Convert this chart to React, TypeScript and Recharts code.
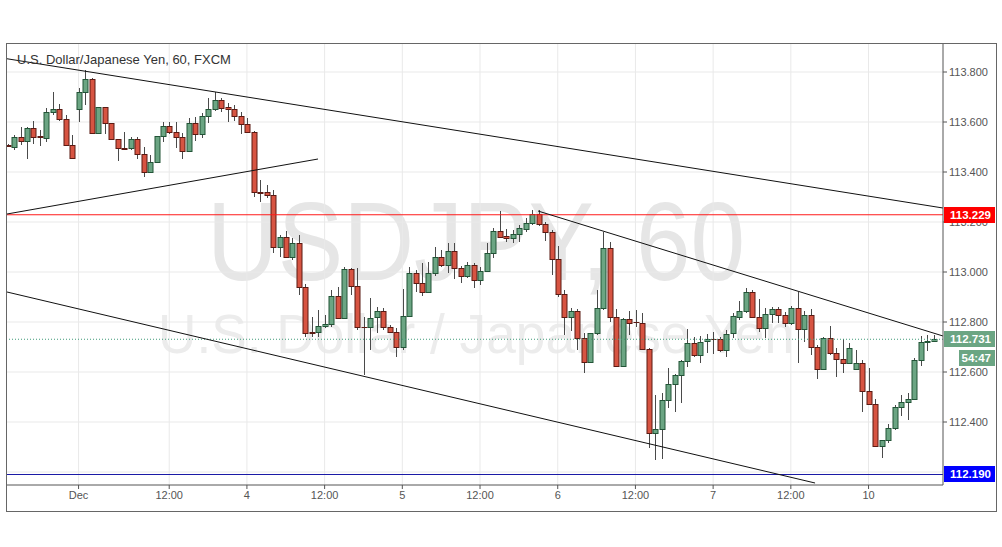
import React from "react";
import { ComposedChart, Bar, XAxis, YAxis, CartesianGrid, ReferenceLine } from "recharts";

// hourly candles, USD/JPY 60, FXCM
const opens = [
  113.508, 113.5, 113.54, 113.524, 113.576, 113.544, 113.536, 113.64, 113.652, 113.612,
  113.508, 113.652, 113.72, 113.772, 113.556, 113.66, 113.596, 113.532, 113.496, 113.496,
  113.532, 113.472, 113.4, 113.44, 113.544, 113.584, 113.56, 113.54, 113.484, 113.596,
  113.552, 113.624, 113.652, 113.688, 113.66, 113.652, 113.624, 113.592, 113.56, 113.32,
  113.32, 113.308, 113.1, 113.14, 113.06, 113.116, 112.94, 112.76, 112.76, 112.784,
  112.792, 112.904, 112.816, 113.012, 112.944, 112.78, 112.78, 112.82, 112.844, 112.78,
  112.76, 112.7, 112.824, 112.996, 112.956, 112.92, 112.996, 113.06, 113.028, 113.084,
  113.016, 112.984, 113.028, 112.968, 113.004, 113.076, 113.164, 113.144, 113.136, 113.152,
  113.172, 113.196, 113.232, 113.192, 113.16, 113.052, 112.912, 112.82, 112.844, 112.736,
  112.64, 112.756, 112.856, 113.096, 112.82, 112.624, 112.812, 112.8, 112.796, 112.692,
  112.356, 112.372, 112.488, 112.552, 112.588, 112.644, 112.716, 112.668, 112.724, 112.732,
  112.732, 112.688, 112.756, 112.82, 112.844, 112.92, 112.82, 112.776, 112.832, 112.852,
  112.828, 112.796, 112.856, 112.772, 112.828, 112.7, 112.612, 112.736, 112.676, 112.652,
  112.636, 112.612, 112.636, 112.524, 112.472, 112.304, 112.328, 112.376, 112.46, 112.48,
  112.492, 112.648, 112.72, 112.724,
];
const highs = [
  113.512, 113.548, 113.58, 113.58, 113.604, 113.568, 113.656, 113.72, 113.672, 113.628,
  113.548, 113.736, 113.808, 113.776, 113.66, 113.66, 113.596, 113.532, 113.56, 113.54,
  113.54, 113.5, 113.468, 113.544, 113.6, 113.6, 113.6, 113.556, 113.616, 113.62,
  113.636, 113.696, 113.72, 113.696, 113.676, 113.668, 113.64, 113.616, 113.564, 113.368,
  113.348, 113.328, 113.148, 113.164, 113.136, 113.148, 112.952, 112.82, 112.848, 112.828,
  112.928, 112.94, 113.02, 113.016, 113.016, 112.82, 112.896, 112.86, 112.856, 112.788,
  112.776, 112.932, 113.02, 113.008, 113.036, 113.04, 113.1, 113.088, 113.116, 113.116,
  113.024, 113.04, 113.036, 113.02, 113.116, 113.176, 113.244, 113.172, 113.168, 113.188,
  113.216, 113.248, 113.248, 113.2, 113.168, 113.104, 112.928, 112.856, 112.852, 112.756,
  112.756, 112.928, 113.16, 113.12, 112.852, 112.816, 112.844, 112.848, 112.836, 112.696,
  112.508, 112.516, 112.616, 112.592, 112.648, 112.772, 112.74, 112.744, 112.752, 112.76,
  112.74, 112.768, 112.836, 112.884, 112.936, 112.928, 112.892, 112.856, 112.86, 112.86,
  112.84, 112.864, 112.92, 112.844, 112.852, 112.708, 112.74, 112.784, 112.696, 112.732,
  112.716, 112.688, 112.648, 112.616, 112.492, 112.328, 112.392, 112.468, 112.508, 112.516,
  112.656, 112.744, 112.748, 112.748,
];
const lows = [
  113.5, 113.488, 113.508, 113.452, 113.512, 113.504, 113.52, 113.628, 113.604, 113.504,
  113.456, 113.6, 113.668, 113.556, 113.556, 113.552, 113.532, 113.444, 113.488, 113.488,
  113.452, 113.38, 113.4, 113.436, 113.52, 113.552, 113.496, 113.452, 113.48, 113.524,
  113.536, 113.596, 113.644, 113.64, 113.6, 113.604, 113.552, 113.556, 113.3, 113.28,
  113.296, 113.076, 113.06, 113.06, 113.048, 112.908, 112.74, 112.74, 112.74, 112.776,
  112.78, 112.816, 112.812, 112.908, 112.768, 112.588, 112.688, 112.756, 112.768, 112.756,
  112.66, 112.688, 112.82, 112.92, 112.904, 112.92, 112.984, 113.02, 112.996, 112.972,
  112.956, 112.976, 112.936, 112.948, 113.0, 113.056, 113.136, 113.12, 113.116, 113.12,
  113.16, 113.188, 113.184, 113.124, 112.988, 112.9, 112.748, 112.764, 112.688, 112.596,
  112.64, 112.748, 112.848, 112.8, 112.62, 112.624, 112.748, 112.78, 112.688, 112.296,
  112.248, 112.252, 112.456, 112.44, 112.476, 112.62, 112.66, 112.636, 112.676, 112.672,
  112.68, 112.66, 112.736, 112.808, 112.836, 112.816, 112.76, 112.736, 112.796, 112.796,
  112.78, 112.788, 112.636, 112.72, 112.668, 112.572, 112.608, 112.668, 112.58, 112.596,
  112.632, 112.608, 112.44, 112.472, 112.304, 112.256, 112.316, 112.368, 112.424, 112.408,
  112.488, 112.624, 112.684, 112.72,
];
const closes = [
  113.504, 113.54, 113.524, 113.576, 113.54, 113.54, 113.64, 113.652, 113.612, 113.508,
  113.456, 113.72, 113.772, 113.556, 113.66, 113.596, 113.532, 113.496, 113.494, 113.532,
  113.472, 113.4, 113.44, 113.544, 113.584, 113.56, 113.54, 113.484, 113.596, 113.552,
  113.624, 113.652, 113.688, 113.656, 113.652, 113.624, 113.592, 113.56, 113.32, 113.318,
  113.308, 113.1, 113.14, 113.06, 113.116, 112.94, 112.756, 112.758, 112.784, 112.792,
  112.904, 112.816, 113.012, 112.944, 112.78, 112.778, 112.816, 112.844, 112.78, 112.76,
  112.7, 112.824, 112.996, 112.956, 112.92, 112.996, 113.06, 113.028, 113.084, 113.016,
  112.984, 113.028, 112.968, 113.004, 113.076, 113.164, 113.14, 113.136, 113.152, 113.176,
  113.196, 113.232, 113.192, 113.16, 113.052, 112.912, 112.82, 112.844, 112.736, 112.64,
  112.756, 112.856, 113.096, 112.82, 112.624, 112.812, 112.796, 112.798, 112.692, 112.356,
  112.372, 112.488, 112.552, 112.588, 112.644, 112.716, 112.668, 112.72, 112.732, 112.73,
  112.688, 112.752, 112.824, 112.844, 112.92, 112.82, 112.776, 112.832, 112.852, 112.828,
  112.796, 112.856, 112.772, 112.828, 112.7, 112.612, 112.736, 112.676, 112.652, 112.636,
  112.696, 112.636, 112.524, 112.472, 112.304, 112.328, 112.376, 112.46, 112.48, 112.492,
  112.648, 112.72, 112.724, 112.731,
];

const timeTicks = [11, 25, 37, 49, 61, 73, 85, 97, 109, 121, 133];
const timeLabels = ["Dec", "12:00", "4", "12:00", "5", "12:00", "6", "12:00", "7", "12:00", "10"];
const gridPrices = [112.2, 112.4, 112.6, 112.8, 113.0, 113.2, 113.4, 113.6, 113.8];
// 112.200 sits under the support tag, so it gets no label
const priceTicks = [112.4, 112.6, 112.8, 113.0, 113.2, 113.4, 113.6, 113.8];

const resistance = 113.229;
const support = 112.19;
const lastPrice = 112.731;
const countdown = "54:47";

// trend lines: [startIndex, startPrice, endIndex, endPrice]
const trendLines = [
  [-0.05, 113.853, 144.5, 113.256],
  [-0.05, 113.232, 47.98, 113.452],
  [-0.05, 112.92, 124.74, 112.156],
  [81.96, 113.244, 144.5, 112.744],
];

const X_DOMAIN = [-0.05, 144.5];
const Y_DOMAIN = [112.148, 113.912];

const data = opens.map((open, i) => ({
  idx: i,
  open,
  high: highs[i],
  low: lows[i],
  close: closes[i],
}));

const FONT = "'Liberation Sans', Arial, sans-serif";

function Candle(props: any) {
  const { x, y, width, height, payload } = props;
  if (x == null || y == null) return null;
  const { open, close, high, low } = payload;
  const up = close > open;
  const top0 = Math.min(y, y + height);
  const h = Math.abs(height);
  const range = high - low;
  const toY = (v: number) => (range === 0 ? top0 : top0 + ((high - v) / range) * h);
  const bTop = Math.round(toY(Math.max(open, close))) + 0.5;
  const bBot = Math.round(toY(Math.min(open, close))) + 0.5;
  const cx = Math.round(x + width / 2) + 0.5;
  const left = cx - 2.5;
  return (
    <g>
      <line x1={cx} x2={cx} y1={Math.round(top0)} y2={Math.round(top0 + h)} stroke="#4a4a4a" strokeWidth={1} />
      <rect
        x={left}
        y={bTop}
        width={5}
        height={Math.max(bBot - bTop, 0.01)}
        fill={up ? "#6ba583" : "#d75442"}
        stroke={up ? "#225437" : "#5b1a13"}
        strokeWidth={1}
      />
    </g>
  );
}

function PriceTag(props: any) {
  const { viewBox, text, fill, sub } = props;
  if (!viewBox) return null;
  const x = viewBox.x + viewBox.width + 1;
  const y = Math.round(viewBox.y);
  return (
    <g>
      <rect x={x} y={y - 8} width={51} height={16} fill={fill} />
      <text x={x + 47} y={y + 4} textAnchor="end" fill="#fff" fontSize={11.5} fontWeight="bold" fontFamily={FONT}>
        {text}
      </text>
      {sub ? (
        <g>
          <rect x={x + 15} y={y + 11} width={36} height={16} fill={fill} />
          <text x={x + 47} y={y + 23} textAnchor="end" fill="#fff" fontSize={11.5} fontWeight="bold" fontFamily={FONT}>
            {sub}
          </text>
        </g>
      ) : null}
    </g>
  );
}

const MARGIN = { top: 44, right: 5, bottom: 35, left: 7 };

export default function App() {
  return (
    <div style={{ position: "absolute", left: 0, top: 0, width: 1002, height: 547, background: "#fff", overflow: "hidden" }}>
      <svg width={1002} height={547} style={{ position: "absolute", left: 0, top: 0 }}>
        <text
          x={476}
          y={280}
          textAnchor="middle"
          fontSize={112}
          fontFamily={FONT}
          fill="#e6e6e6"
          textLength={538}
          lengthAdjust="spacingAndGlyphs"
        >
          USDJPY, 60
        </text>
        <text
          x={476}
          y={353}
          textAnchor="middle"
          fontSize={55}
          fontFamily={FONT}
          fill="#ececec"
          textLength={636}
          lengthAdjust="spacingAndGlyphs"
        >
          U.S. Dollar / Japanese Yen
        </text>
      </svg>

      {/* main chart: grid, axes, trend lines, candles */}
      <div style={{ position: "absolute", left: 0, top: 0 }}>
        <ComposedChart width={1002} height={547} data={data} margin={MARGIN}>
          <CartesianGrid stroke="#e9e9e9" horizontalValues={gridPrices} verticalValues={timeTicks} />
          <XAxis
            dataKey="idx"
            type="number"
            domain={X_DOMAIN}
            allowDataOverflow
            ticks={timeTicks}
            interval={0}
            tickFormatter={(v: number) => timeLabels[timeTicks.indexOf(v)] ?? ""}
            height={27}
            tickSize={4}
            tick={{ fontSize: 11, fill: "#555", fontFamily: FONT }}
            axisLine={{ stroke: "#555" }}
            tickLine={{ stroke: "#555" }}
          />
          <YAxis
            orientation="right"
            type="number"
            domain={Y_DOMAIN}
            allowDataOverflow
            ticks={priceTicks}
            interval={0}
            tickFormatter={(v: number) => v.toFixed(3)}
            width={54}
            tickSize={4}
            tick={{ fontSize: 11, fill: "#555", fontFamily: FONT }}
            axisLine={{ stroke: "#555" }}
            tickLine={{ stroke: "#555" }}
          />
          <ReferenceLine y={resistance} stroke="#ff1a1a" strokeWidth={1} />
          <ReferenceLine y={support} stroke="#1a1aa6" strokeWidth={1} />
          <ReferenceLine y={lastPrice} stroke="#3f9a78" strokeDasharray="1 2" strokeWidth={1} />
          {trendLines.map(([x1, y1, x2, y2], i) => (
            <ReferenceLine
              key={i}
              segment={[{ x: x1, y: y1 }, { x: x2, y: y2 }]}
              stroke="#111"
              strokeWidth={1}
              ifOverflow="visible"
            />
          ))}
          <Bar
            dataKey={(d: any) => [d.low, d.high]}
            barSize={5}
            shape={<Candle />}
            isAnimationActive={false}
          />
        </ComposedChart>
      </div>

      {/* overlay with the same scales so the price tags sit above the axis labels */}
      <div style={{ position: "absolute", left: 0, top: 0 }}>
        <ComposedChart width={1002} height={547} data={data} margin={{ top: 44, right: 59, bottom: 62, left: 7 }}>
          <XAxis dataKey="idx" type="number" domain={X_DOMAIN} allowDataOverflow hide />
          <YAxis type="number" domain={Y_DOMAIN} allowDataOverflow hide />
          <ReferenceLine y={resistance} stroke="none" label={<PriceTag text={resistance.toFixed(3)} fill="#ff0000" />} />
          <ReferenceLine y={support} stroke="none" label={<PriceTag text={support.toFixed(3)} fill="#0000ff" />} />
          <ReferenceLine
            y={lastPrice}
            stroke="none"
            label={<PriceTag text={lastPrice.toFixed(3)} fill="#6ba583" sub={countdown} />}
          />
        </ComposedChart>
      </div>

      <div
        style={{
          position: "absolute",
          left: 17,
          top: 52,
          fontFamily: FONT,
          fontSize: 13,
          color: "#333",
          whiteSpace: "nowrap",
        }}
      >
        U.S. Dollar/Japanese Yen, 60, FXCM
      </div>
      <div
        style={{
          position: "absolute",
          left: 6,
          top: 43,
          width: 991,
          height: 469,
          border: "1px solid #666",
          boxSizing: "border-box",
          pointerEvents: "none",
        }}
      />
    </div>
  );
}
